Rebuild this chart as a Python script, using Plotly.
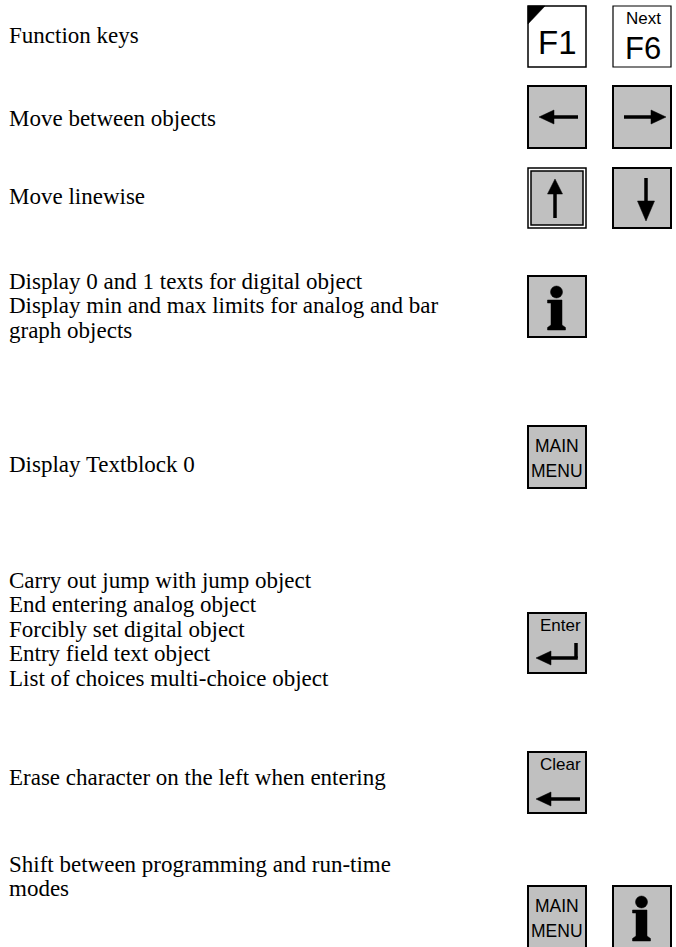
import plotly.graph_objects as go

W, H = 676, 947

# ---- content ----
desc_lines = [
    ["Function keys"],
    ["Move between objects"],
    ["Move linewise"],
    ["Display 0 and 1 texts for digital object",
     "Display min and max limits for analog and bar",
     "graph objects"],
    ["Display Textblock 0"],
    ["Carry out jump with jump object",
     "End entering analog object",
     "Forcibly set digital object",
     "Entry field text object",
     "List of choices multi-choice object"],
    ["Erase character on the left when entering"],
    ["Shift between programming and run-time",
     "modes"],
]
desc_first_y = [35, 118, 196, 281, 464, 580, 777, 864]
line_gap = 24.5

# keys per row: (column A key, column B key)
row_keys = [
    ("F1", "Next F6"),
    ("LEFT", "RIGHT"),
    ("UP", "DOWN"),
    ("INFO", None),
    ("MAIN MENU", None),
    ("ENTER", None),
    ("CLEAR", None),
    ("MAIN MENU", "INFO"),
]
row_key_top = [6, 86, 168, 276, 426, 613, 752, 886]
row_key_h = [61, 62, 60, 61, 62, 60, 61, 62]

colA_x, colB_x, key_w = 528, 613, 58
GRAY = "#c0c0c0"

fig = go.Figure()
shapes = []
annos = []

def rect(x0, y0, x1, y1, fill, lw=2, color="black"):
    shapes.append(dict(type="rect", x0=x0, y0=y0, x1=x1, y1=y1,
                       fillcolor=fill, line=dict(color=color, width=lw), layer="above"))

def poly(pts, fill="black"):
    d = "M " + " L ".join(f"{x},{y}" for x, y in pts) + " Z"
    shapes.append(dict(type="path", path=d, fillcolor=fill,
                       line=dict(color=fill, width=0.5), layer="above"))

def line(x0, y0, x1, y1, lw=3.5):
    shapes.append(dict(type="line", x0=x0, y0=y0, x1=x1, y1=y1,
                       line=dict(color="black", width=lw), layer="above"))

def txt(x, y, s, size, fam="Liberation Sans", xa="center"):
    annos.append(dict(x=x, y=y, text=s, showarrow=False, xanchor=xa, yanchor="middle",
                      borderpad=0,
                      font=dict(family=fam, size=size, color="black")))

def draw_key(kind, x0, y0, h):
    w = key_w
    x1, y1 = x0 + w, y0 + h
    cx, cy = x0 + w / 2, y0 + h / 2
    if kind == "F1":
        rect(x0, y0, x1, y1, "white", lw=1.5)
        poly([(x0, y0), (x0 + 17, y0), (x0, y0 + 18)])
        txt(cx, y0 + 36, "F1", 33)
    elif kind == "Next F6":
        rect(x0, y0, x1, y1, "white", lw=1.2)
        txt(cx + 1, y0 + 12, "Next", 17)
        txt(cx + 1, y0 + 42, "F6", 31)
    elif kind == "LEFT":
        rect(x0, y0, x1, y1, GRAY)
        line(x0 + 24, cy, x0 + 50, cy)
        poly([(x0 + 11, cy), (x0 + 26, cy - 7), (x0 + 26, cy + 7)])
    elif kind == "RIGHT":
        rect(x0, y0, x1, y1, GRAY)
        line(x0 + 11, cy, x0 + 40, cy)
        poly([(x0 + 53, cy), (x0 + 38, cy - 7), (x0 + 38, cy + 7)])
    elif kind == "UP":
        rect(x0, y0, x1, y1, "white", lw=1.5)
        rect(x0 + 3, y0 + 3, x1 - 3, y1 - 3, GRAY, lw=1.5)
        line(x0 + 27, y0 + 23, x0 + 27, y0 + 50)
        poly([(x0 + 27, y0 + 11), (x0 + 19.5, y0 + 26), (x0 + 34.5, y0 + 26)])
    elif kind == "DOWN":
        rect(x0, y0, x1, y1, GRAY)
        line(x0 + 33, y0 + 10, x0 + 33, y0 + 36)
        poly([(x0 + 33, y0 + 53), (x0 + 24.5, y0 + 33), (x0 + 41.5, y0 + 33)])
    elif kind == "INFO":
        rect(x0, y0, x1, y1, GRAY)
        ix = x0 + 28.5
        shapes.append(dict(type="circle", x0=ix - 6, y0=y0 + 10, x1=ix + 6, y1=y0 + 22,
                           fillcolor="black", line=dict(color="black", width=0.5), layer="above"))
        poly([(ix - 9, y0 + 24), (ix + 5.5, y0 + 24), (ix + 5.5, y1 - 12),
              (ix + 9, y1 - 9.5), (ix + 9, y1 - 7), (ix - 9, y1 - 7), (ix - 9, y1 - 9.5),
              (ix - 5.5, y1 - 12), (ix - 5.5, y0 + 27), (ix - 9, y0 + 27)])
    elif kind == "MAIN MENU":
        rect(x0, y0, x1, y1, GRAY)
        txt(cx, y0 + 20, "MAIN", 17.5)
        txt(cx, y0 + 45, "MENU", 17.5)
    elif kind == "ENTER":
        rect(x0, y0, x1, y1, GRAY)
        txt(cx + 3, y0 + 12, "Enter", 17)
        vx = x1 - 10
        line(vx, y0 + 30, vx, y0 + 45)
        line(x0 + 22, y0 + 45, vx + 1.75, y0 + 45)
        poly([(x0 + 8, y0 + 45), (x0 + 23, y0 + 38), (x0 + 23, y0 + 52)])
    elif kind == "CLEAR":
        rect(x0, y0, x1, y1, GRAY)
        txt(cx + 3, y0 + 12, "Clear", 17)
        line(x0 + 22, y0 + 47, x1 - 6, y0 + 47)
        poly([(x0 + 8, y0 + 47), (x0 + 23, y0 + 40), (x0 + 23, y0 + 54)])

for (ka, kb), top, h in zip(row_keys, row_key_top, row_key_h):
    if ka:
        draw_key(ka, colA_x, top, h)
    if kb:
        draw_key(kb, colB_x, top, h)

for lines, y0 in zip(desc_lines, desc_first_y):
    for i, s in enumerate(lines):
        txt(8, y0 + i * line_gap, s, 23, fam="Liberation Serif", xa="left")

fig.update_layout(
    width=W, height=H, margin=dict(l=0, r=0, t=0, b=0),
    paper_bgcolor="white", plot_bgcolor="white",
    xaxis=dict(range=[0, W], visible=False, fixedrange=True),
    yaxis=dict(range=[H, 0], visible=False, fixedrange=True),
    shapes=shapes, annotations=annos, showlegend=False,
)
fig.write_html(
    "out.html",
    config={"displayModeBar": False},
    post_script="document.body.style.margin='0';document.body.style.overflow='hidden';",
)
